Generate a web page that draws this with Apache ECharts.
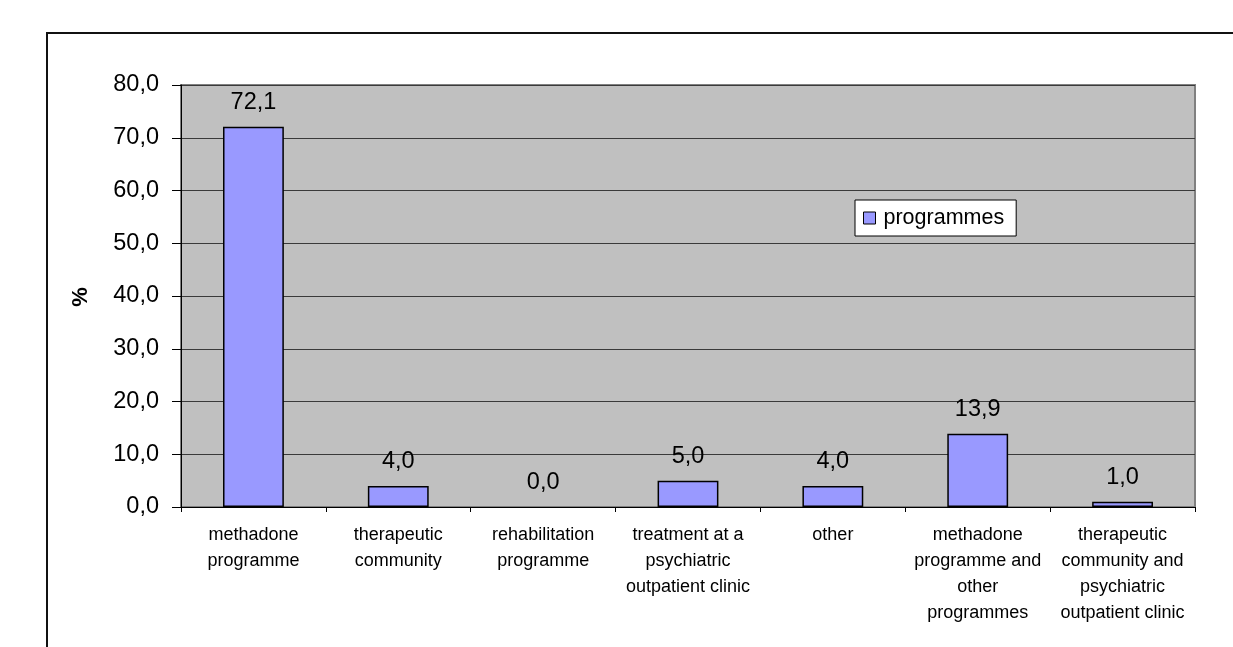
<!DOCTYPE html>
<html>
<head>
<meta charset="utf-8">
<script src="https://cdn.jsdelivr.net/npm/echarts@6/dist/echarts.min.js"></script>
<style>
  html, body { margin: 0; padding: 0; background: #fff; }
  #chart { width: 1233px; height: 647px; }
</style>
</head>
<body>
<div id="chart"></div>
<script>
// Treatment programme categories (line breaks as printed under the axis)
const categories = [
  'methadone\nprogramme',
  'therapeutic\ncommunity',
  'rehabilitation\nprogramme',
  'treatment at a\npsychiatric\noutpatient clinic',
  'other',
  'methadone\nprogramme and\nother\nprogrammes',
  'therapeutic\ncommunity and\npsychiatric\noutpatient clinic'
];
// Share of respondents per programme, %
const programmes = [72.1, 4.0, 0.0, 5.0, 4.0, 13.9, 1.0];
const seriesName = 'programmes';
const yAxisName = '%';

const FONT = '"Liberation Sans", Arial, sans-serif';
const fmt = v => Number(v).toFixed(1).replace('.', ',');

// Zero-height bars get no outline so nothing is drawn on the axis for them
const barData = programmes.map(v => v === 0
  ? { value: v, itemStyle: { borderWidth: 0 } }
  : v);

const chart = echarts.init(document.getElementById('chart'), null, { renderer: 'canvas' });
chart.setOption({
  animation: false,
  backgroundColor: '#ffffff',
  textStyle: { fontFamily: FONT, color: '#000' },
  graphic: [
    {
      type: 'rect',
      z: 100,
      shape: { x: 47, y: 33, width: 1300, height: 700 },
      style: { fill: 'none', stroke: '#111', lineWidth: 2 }
    },
    {
      type: 'text',
      z: 100,
      x: 81,
      y: 297,
      rotation: Math.PI / 2,
      style: {
        text: yAxisName,
        font: 'bold 22px ' + FONT,
        fill: '#000',
        align: 'center',
        verticalAlign: 'middle'
      }
    }
  ],
  grid: {
    left: 181,
    right: 38,
    top: 85,
    bottom: 140,
    show: true,
    backgroundColor: '#c0c0c0',
    borderColor: '#808080',
    borderWidth: 2
  },
  legend: {
    data: [seriesName],
    left: 855,
    top: 200,
    padding: [7, 12, 7, 8],
    backgroundColor: '#ffffff',
    borderColor: '#000',
    borderWidth: 1,
    borderRadius: 0,
    itemWidth: 12,
    itemHeight: 12,
    itemGap: 6,
    icon: 'rect',
    itemStyle: { color: '#9999ff', borderColor: '#000', borderWidth: 1 },
    textStyle: { fontFamily: FONT, fontSize: 21.5, color: '#000', padding: [0, 0, 0, 3] }
  },
  xAxis: {
    type: 'category',
    data: categories,
    axisLine: { lineStyle: { color: '#000', width: 1 } },
    axisTick: { show: true, length: 5, lineStyle: { color: '#000' } },
    axisLabel: {
      interval: 0,
      margin: 15,
      fontFamily: FONT,
      fontSize: 18,
      lineHeight: 26,
      color: '#000',
      align: 'center'
    }
  },
  yAxis: {
    type: 'value',
    min: 0,
    max: 80,
    interval: 10,
    axisLine: { show: true, lineStyle: { color: '#000', width: 1 } },
    axisTick: { show: true, length: 9, lineStyle: { color: '#000' } },
    axisLabel: {
      margin: 22,
      fontFamily: FONT,
      fontSize: 23.5,
      color: '#000',
      formatter: fmt
    },
    splitLine: { show: true, lineStyle: { color: '#3a3a3a', width: 1 } }
  },
  series: [
    {
      name: seriesName,
      type: 'bar',
      data: barData,
      barWidth: '42%',
      itemStyle: { color: '#9999ff', borderColor: '#000', borderWidth: 1.5 },
      label: {
        show: true,
        position: 'top',
        distance: 12,
        fontFamily: FONT,
        fontSize: 23.5,
        color: '#000',
        formatter: p => fmt(p.value)
      }
    }
  ]
});
</script>
</body>
</html>
